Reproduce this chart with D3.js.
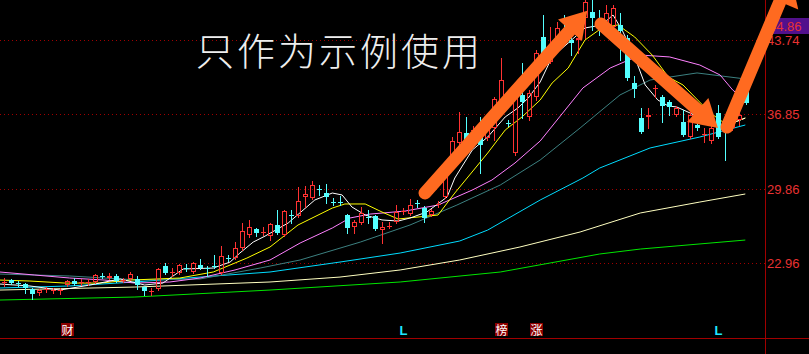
<!DOCTYPE html>
<html>
<head>
<meta charset="utf-8">
<script src="https://cdn.jsdelivr.net/npm/d3@7"></script>
<style>
  html, body { margin: 0; padding: 0; background: #000; }
  svg { display: block; }
</style>
</head>
<body>
<svg id="chart"></svg>
<script>
const W = 809, H = 354;

// daily candles: [open, high, low, close]
const candles = [
  [21.19, 21.56, 20.82, 21.22], [21.37, 21.47, 21.00, 21.09], [21.11, 21.28, 20.82, 21.09],
  [21.00, 21.09, 20.16, 20.63], [20.54, 20.63, 19.60, 20.07], [20.16, 20.54, 19.98, 20.44],
  [20.52, 20.72, 20.26, 20.54], [20.42, 20.63, 20.16, 20.44], [20.42, 20.63, 20.07, 20.45],
  [20.91, 21.37, 20.82, 21.28], [21.28, 21.56, 20.91, 21.00], [21.17, 21.47, 20.91, 21.19],
  [21.18, 21.47, 20.91, 21.20], [21.19, 21.93, 21.09, 21.84], [21.76, 22.03, 21.56, 21.74],
  [21.56, 22.03, 21.47, 21.75], [21.75, 21.93, 21.19, 21.28], [21.36, 21.56, 21.19, 21.38],
  [21.47, 22.12, 21.37, 21.93], [21.47, 21.75, 20.54, 20.91], [20.72, 20.82, 19.98, 20.35],
  [20.33, 20.63, 19.98, 20.35], [20.54, 22.49, 20.44, 22.40], [22.68, 22.96, 21.93, 22.03],
  [22.10, 22.49, 21.75, 22.12], [22.03, 22.87, 21.93, 22.77], [22.50, 22.87, 22.21, 22.48],
  [22.12, 23.05, 22.03, 22.96], [22.77, 23.33, 22.40, 22.49], [22.50, 22.68, 21.75, 22.48],
  [22.68, 23.71, 22.49, 22.59], [22.03, 24.54, 21.93, 23.61], [23.43, 23.71, 23.14, 23.41],
  [23.42, 24.91, 23.33, 24.36], [24.36, 26.69, 24.17, 25.94], [25.57, 26.97, 25.38, 26.31],
  [26.13, 26.22, 25.47, 25.75], [25.84, 26.31, 25.57, 25.86], [25.47, 26.69, 25.10, 26.59],
  [26.50, 27.90, 25.66, 25.75], [25.57, 27.90, 25.47, 27.80], [27.44, 27.90, 26.69, 27.42],
  [27.34, 30.04, 27.25, 28.74], [29.11, 30.14, 28.18, 29.39], [29.02, 30.60, 28.92, 30.23],
  [29.87, 30.23, 29.30, 29.85], [29.49, 30.32, 28.55, 29.11], [28.65, 29.02, 28.36, 28.63],
  [28.65, 29.21, 28.36, 28.63], [27.43, 27.52, 25.75, 26.22], [26.31, 26.97, 25.75, 26.78],
  [26.69, 28.18, 26.59, 27.62], [27.26, 27.90, 26.69, 27.24], [27.34, 27.43, 26.03, 26.13],
  [26.03, 26.78, 24.82, 26.31], [26.40, 26.78, 26.22, 26.42], [26.78, 28.36, 26.69, 27.71],
  [27.79, 28.08, 27.52, 27.81], [27.52, 28.92, 27.43, 28.36], [28.56, 28.83, 28.18, 28.54],
  [28.08, 28.27, 26.78, 27.15], [27.43, 27.99, 27.34, 27.80], [28.45, 28.74, 28.18, 28.47],
  [29.11, 31.63, 29.02, 31.53], [33.02, 34.70, 32.84, 34.33], [34.14, 37.03, 33.96, 35.17],
  [35.07, 36.57, 34.14, 34.33], [35.34, 35.73, 34.70, 35.36], [34.70, 36.57, 31.35, 33.96],
  [34.61, 36.47, 34.42, 35.82], [35.54, 38.43, 34.42, 38.24], [38.15, 42.06, 37.96, 40.01],
  [36.02, 36.29, 35.73, 36.00], [33.21, 39.73, 33.02, 39.55], [38.62, 41.60, 36.47, 37.96],
  [36.57, 39.08, 36.29, 38.80], [38.43, 42.81, 38.15, 42.53], [44.02, 46.07, 41.88, 42.16],
  [41.69, 44.95, 41.60, 42.06], [43.09, 45.42, 42.81, 44.86], [44.67, 46.07, 43.46, 43.74],
  [43.74, 44.39, 42.34, 43.46], [43.74, 45.89, 42.53, 43.93], [45.79, 47.47, 43.93, 47.28],
  [46.35, 47.47, 44.67, 45.79], [45.70, 46.54, 44.21, 45.33], [44.95, 47.00, 44.67, 46.26],
  [44.95, 47.00, 44.39, 46.72], [45.14, 46.26, 41.88, 44.58], [43.93, 44.21, 40.01, 40.20],
  [39.73, 40.39, 38.43, 39.18], [36.47, 37.40, 35.07, 35.17], [36.57, 37.40, 35.54, 36.75],
  [39.26, 39.55, 38.43, 39.28], [38.43, 38.62, 36.10, 37.59], [37.96, 38.15, 36.75, 37.50],
  [36.75, 37.59, 36.66, 37.40], [36.10, 37.22, 34.79, 34.89], [34.70, 37.03, 34.61, 36.75],
  [35.82, 36.29, 35.35, 35.54], [34.97, 35.54, 34.24, 34.99], [34.33, 35.82, 34.14, 35.54],
  [36.94, 37.68, 34.61, 34.70], [35.54, 35.82, 32.56, 35.17], [35.54, 36.29, 35.35, 36.01],
  [36.29, 37.68, 35.82, 36.75], [39.08, 39.27, 37.78, 37.87]
];

// moving averages: [candle index, price]
const ma5 = [
  [-0.6, 21.00], [3.7, 20.82], [8, 20.44], [12.3, 20.91], [16.6, 21.47], [20.1, 20.91],
  [22.7, 21.09], [25.6, 22.40], [29.9, 22.49], [32.3, 23.05], [33.7, 23.89], [35.6, 24.91],
  [37.3, 25.47], [40.6, 26.69], [44.4, 28.83], [46.9, 29.48], [48.3, 29.30], [49.7, 28.18],
  [51.6, 27.43], [54, 26.97], [56.3, 26.87], [58, 27.15], [60.4, 27.71], [63.3, 29.11],
  [64.4, 30.88], [66.9, 33.49], [69.1, 34.70], [71.6, 36.57], [73.4, 37.40], [74.9, 38.34],
  [76.6, 39.83], [78.3, 42.16], [80.6, 43.46], [83, 44.86], [85.4, 45.14], [87, 46.07],
  [88.3, 44.67], [90.1, 42.16], [91.6, 39.55], [93.4, 38.15], [94.9, 37.59], [96.1, 37.50],
  [98, 36.94], [99.4, 36.47], [101.3, 35.82], [102.7, 35.54], [104.1, 36.01], [105.9, 36.47]
];
const ma10 = [
  [-0.6, 21.37], [3.7, 21.28], [8.7, 21.09], [13.7, 21.09], [18, 21.37], [25.1, 21.56],
  [29.9, 22.12], [34.7, 23.42], [38, 24.45], [42, 26.50], [46.9, 28.08], [48.7, 28.46],
  [51.6, 28.46], [54, 27.71], [56.3, 27.06], [62, 27.43], [64.4, 29.48], [69.1, 33.21],
  [71.6, 35.35], [74, 36.57], [76.6, 38.15], [78.3, 39.73], [80.6, 41.13], [83, 43.74],
  [85.4, 44.86], [87.7, 45.14], [90.1, 44.02], [92.6, 42.34], [94.9, 40.29], [97, 39.55],
  [100.9, 36.94], [102.7, 36.10], [104.1, 36.01], [105.9, 36.47]
];
const ma20 = [
  [-0.6, 22.12], [4.4, 21.84], [9.4, 21.56], [14.4, 21.37], [18.7, 21.09], [23.7, 21.19],
  [28, 21.56], [33, 22.31], [38, 23.24], [42.3, 24.82], [46.9, 26.22], [49.4, 27.15],
  [52.3, 27.52], [57.3, 27.80], [62, 28.36], [66.9, 29.76], [69.7, 30.69], [73, 32.28],
  [76.6, 34.33], [82.7, 39.27], [86.6, 41.13], [90.9, 42.34], [95.1, 42.16], [99.4, 41.41],
  [102.3, 40.48], [104.1, 39.08], [105.9, 38.15]
];
const ma30 = [
  [-0.6, 21.93], [9.4, 21.75], [19.4, 21.37], [28, 21.47], [36.6, 22.49], [42.3, 23.24],
  [50.9, 24.91], [58, 26.50], [64.7, 28.36], [70.9, 30.23], [76.6, 32.56], [82.3, 35.54],
  [88, 38.62], [92.3, 40.01], [99, 40.67], [105.9, 40.11]
];
const ma60 = [
  [-0.6, 20.63], [9.4, 20.82], [18.7, 21.19], [28, 21.65], [38, 22.12], [48, 23.05],
  [56.6, 23.89], [65.1, 25.01], [69.1, 26.03], [76.6, 28.83], [82.7, 30.88], [85.1, 31.81],
  [92.3, 33.68], [99.4, 34.70], [105.9, 35.82]
];
const ma120 = [
  [-0.6, 20.44], [18.7, 20.72], [38, 21.19], [48, 21.65], [56.6, 22.31], [65.1, 23.24],
  [73.7, 24.45], [82.3, 25.85], [90.9, 27.62], [99.4, 28.64], [105.9, 29.39]
];
const ma250 = [
  [-0.6, 19.51], [18.7, 19.79], [38, 20.44], [56.6, 21.19], [70.9, 22.12], [85.1, 23.80],
  [90.9, 24.26], [105.9, 25.10]
];

const yTicks = [43.74, 36.85, 29.86, 22.96];
const markPrice = 44.86;

const markerIdx = [9, 57, 71, 76, 102];
const markerText = ["财", "L", "榜", "涨", "L"];
const markerBoxed = [true, false, true, true, false];

const svg = d3.select("#chart").attr("width", W).attr("height", H);
svg.append("rect").attr("width", W).attr("height", H).attr("fill", "#000");

const x = d3.scaleLinear().domain([0, candles.length - 1]).range([4, 746]);
const y = d3.scaleLinear().domain([22.96, 43.74]).range([263, 40]);

svg.append("clipPath").attr("id", "plot")
  .append("rect").attr("x", 0).attr("y", 0).attr("width", 765).attr("height", 338);

// dotted price grid
svg.append("g")
  .selectAll("line")
  .data(yTicks)
  .enter()
  .append("line")
  .attr("x1", 0)
  .attr("x2", 765)
  .attr("y1", (d) => Math.round(y(d)) + 0.5)
  .attr("y2", (d) => Math.round(y(d)) + 0.5)
  .attr("stroke", "#a00000")
  .attr("stroke-dasharray", "1,3");

// moving averages
const line = d3.line().x((d) => x(d[0])).y((d) => y(d[1]));
const maList = [
  [ma250, "#00e600"],
  [ma120, "#ffffc0"],
  [ma60, "#00dcff"],
  [ma30, "#3c8080"],
  [ma20, "#ff80ff"],
  [ma10, "#ffff00"],
  [ma5, "#ffffff"]
];
const maG = svg.append("g").attr("clip-path", "url(#plot)");
maList.forEach((m) => {
  maG.append("path")
    .datum(m[0])
    .attr("d", line)
    .attr("fill", "none")
    .attr("stroke", m[1])
    .attr("stroke-width", 1);
});

// candles
const cg = svg.append("g")
  .selectAll("g")
  .data(candles)
  .enter()
  .append("g");

cg.each(function (d, i) {
  const g = d3.select(this);
  const o = d[0], h = d[1], l = d[2], c = d[3];
  const up = c >= o;
  const col = up ? "#ff3232" : "#54ffff";
  const px = Math.round(x(i));
  const top = Math.round(y(Math.max(o, c)));
  const bot = Math.round(y(Math.min(o, c)));
  g.append("line")
    .attr("x1", px + 0.5).attr("x2", px + 0.5)
    .attr("y1", Math.round(y(h))).attr("y2", top)
    .attr("stroke", col);
  g.append("line")
    .attr("x1", px + 0.5).attr("x2", px + 0.5)
    .attr("y1", bot).attr("y2", Math.round(y(l)) + 1)
    .attr("stroke", col);
  if (bot - top < 2) {
    g.append("line")
      .attr("x1", px - 2).attr("x2", px + 3)
      .attr("y1", top + 0.5).attr("y2", top + 0.5)
      .attr("stroke", col);
  } else if (up) {
    g.append("rect")
      .attr("x", px - 1.5).attr("y", top + 0.5)
      .attr("width", 4).attr("height", bot - top - 1)
      .attr("fill", "none").attr("stroke", col);
  } else {
    g.append("rect")
      .attr("x", px - 2).attr("y", top)
      .attr("width", 5).attr("height", bot - top)
      .attr("fill", col);
  }
});

// frame lines
svg.append("line")
  .attr("x1", 765.5).attr("x2", 765.5).attr("y1", 0).attr("y2", H)
  .attr("stroke", "#a00000");
svg.append("line")
  .attr("x1", 0).attr("x2", W).attr("y1", 338.5).attr("y2", 338.5)
  .attr("stroke", "#a00000");

// right price axis
const yAxis = d3.axisRight(y).tickValues(yTicks).tickSize(0).tickPadding(2)
  .tickFormat(d3.format(".2f"));
const axG = svg.append("g").attr("transform", "translate(765,0)").call(yAxis);
axG.select(".domain").remove();
axG.selectAll("text")
  .attr("dy", "0.38em")
  .attr("fill", "#e83232")
  .style("font-family", "'Liberation Sans', Arial, sans-serif")
  .style("font-size", "13px");

// marked price box
const my = Math.round(y(markPrice));
svg.append("rect")
  .attr("x", 768).attr("y", my - 10).attr("width", 41).attr("height", 16)
  .attr("fill", "#52108c");
svg.append("text")
  .attr("x", 769).attr("y", my + 3)
  .attr("fill", "#e83232")
  .style("font-family", "'Liberation Sans', Arial, sans-serif")
  .style("font-size", "13px")
  .text(d3.format(".2f")(markPrice));

// bottom event markers
const mk = svg.append("g");
markerIdx.forEach((idx, k) => {
  const cx = Math.round(x(idx));
  if (markerBoxed[k]) {
    mk.append("rect")
      .attr("x", cx - 6).attr("y", 323).attr("width", 13).attr("height", 13)
      .attr("fill", "#8b0000");
  }
  mk.append("text")
    .attr("x", cx + 0.5).attr("y", 335)
    .attr("text-anchor", "middle")
    .attr("fill", markerBoxed[k] ? "#ffffff" : "#1ee6ff")
    .style("font-family", markerBoxed[k] ? "'Noto Sans CJK SC', sans-serif" : "'Liberation Sans', Arial, sans-serif")
    .style("font-size", markerBoxed[k] ? "12px" : "13px")
    .style("font-weight", markerBoxed[k] ? "normal" : "bold")
    .text(markerText[k]);
});

// watermark
svg.append("text")
  .attr("x", 196).attr("y", 65)
  .attr("fill", "#eeeeee")
  .attr("textLength", 284)
  .style("font-family", "'Noto Sans CJK SC', sans-serif")
  .style("font-size", "38px")
  .style("font-weight", "300")
  .text("只作为示例使用");

// orange arrows
const arrowCol = "#ff6a20";
function arrow(x1, y1, x2, y2, headLen, headHalf) {
  const dx = x2 - x1, dy = y2 - y1;
  const len = Math.sqrt(dx * dx + dy * dy);
  const ux = dx / len, uy = dy / len;
  const bx = x2 - ux * 3, by = y2 - uy * 3;
  svg.append("line")
    .attr("x1", x1).attr("y1", y1).attr("x2", x2).attr("y2", y2)
    .attr("stroke", arrowCol).attr("stroke-width", 13)
    .attr("stroke-linecap", "round");
  const pts = [
    [bx + ux * headLen, by + uy * headLen],
    [bx - uy * headHalf, by + ux * headHalf],
    [bx + uy * headHalf, by - ux * headHalf]
  ];
  svg.append("polygon")
    .attr("points", pts.map((p) => p.join(",")).join(" "))
    .attr("fill", arrowCol);
}
arrow(425, 193, 572, 28, 26, 16);
arrow(601, 24, 700, 112, 27, 16);
arrow(727, 127, 781, -1, 28, 20);
</script>
</body>
</html>
